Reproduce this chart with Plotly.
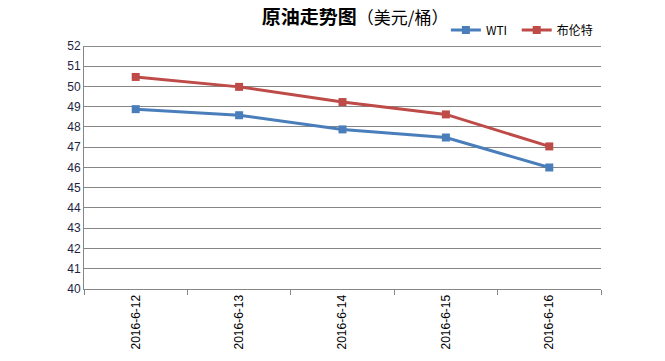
import plotly.graph_objects as go

dates = ["2016-6-12", "2016-6-13", "2016-6-14", "2016-6-15", "2016-6-16"]
wti = [48.88, 48.58, 47.88, 47.48, 46.0]
brent = [50.47, 49.98, 49.23, 48.62, 47.04]
yticks = list(range(40, 53))

fig = go.Figure()
fig.add_trace(go.Scatter(x=dates, y=wti, name="WTI", mode="lines+markers",
                         line=dict(color="#4a7ebb", width=3),
                         marker=dict(symbol="square", size=8, color="#4a7ebb"),
                         legend="legend"))
fig.add_trace(go.Scatter(x=dates, y=brent, name="布伦特", mode="lines+markers",
                         line=dict(color="#be4b48", width=3),
                         marker=dict(symbol="square", size=8, color="#be4b48"),
                         legend="legend2"))

leg_common = dict(orientation="h", y=0.945, xanchor="left", yanchor="middle",
                  font=dict(size=12), bgcolor="rgba(0,0,0,0)", itemwidth=30)

fig.update_layout(
    width=665, height=361,
    margin=dict(l=76, r=72, t=0, b=80),
    paper_bgcolor="white", plot_bgcolor="white",
    font=dict(family="Noto Sans CJK SC, Liberation Sans, sans-serif", size=12, color="#000000"),
    title=dict(text="<b>原油走势图</b><span style='font-size:17px'>（美元/桶）</span>",
               x=0.522, xanchor="center", y=1.0, yanchor="top", pad=dict(t=3),
               font=dict(size=19, color="#000000")),
    legend=dict(x=0.70, **leg_common),
    legend2=dict(x=0.837, **leg_common),
    showlegend=True,
)
fig.update_xaxes(type="category", range=[-0.5, 4.5], tickangle=-90,
                 showline=True, linecolor="#868686", linewidth=1,
                 ticks="outside", tickson="boundaries", ticklen=5, tickcolor="#868686",
                 showgrid=False, tickfont=dict(family="Liberation Sans, Arial", size=12))
fig.update_yaxes(range=[40, 52], tickvals=yticks, domain=[0, 0.887],
                 showgrid=True, gridcolor="#868686", gridwidth=1,
                 showline=True, linecolor="#868686", linewidth=1, zeroline=False,
                 tickfont=dict(family="Liberation Sans, Arial", size=12, color="#1f1f3f"))
fig.add_shape(type="line", xref="paper", yref="y", x0=0, x1=1, y0=52, y1=52,
              line=dict(color="black", width=1))

fig.write_html("out.html")
